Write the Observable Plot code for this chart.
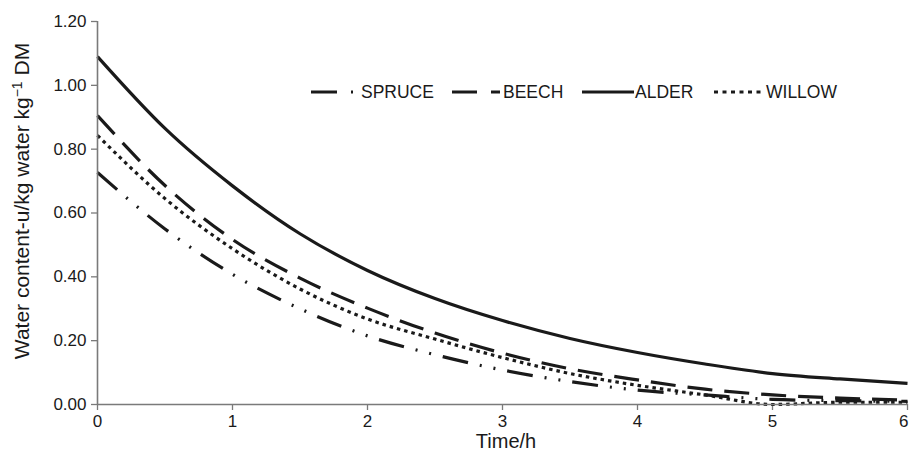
<!DOCTYPE html>
<html>
<head>
<meta charset="utf-8">
<script src="https://cdn.jsdelivr.net/npm/d3@7"></script>
<script src="https://cdn.jsdelivr.net/npm/@observablehq/plot@0.6"></script>
<style>
  html, body { margin: 0; padding: 0; background: #fff; overflow: hidden; }
  #chart { width: 909px; height: 465px; }
</style>
</head>
<body>
<div id="chart"></div>
<script>
// ---- data ----
const time   = [0, 0.5, 1, 1.5, 2, 2.5, 3, 3.5, 4, 4.5, 5, 5.5, 6];
const spruce = [0.727, 0.55, 0.408, 0.30, 0.215, 0.156, 0.108, 0.072, 0.045, 0.03, 0.016, 0.012, 0.01];
const beech  = [0.905, 0.686, 0.517, 0.396, 0.302, 0.224, 0.161, 0.112, 0.077, 0.048, 0.03, 0.02, 0.014];
const alder  = [1.09, 0.865, 0.685, 0.535, 0.42, 0.332, 0.263, 0.207, 0.163, 0.127, 0.097, 0.08, 0.066];
const willow = [0.843, 0.645, 0.488, 0.362, 0.268, 0.205, 0.147, 0.097, 0.06, 0.03, 0.0, 0.007, 0.007];
const seriesNames = ["SPRUCE", "BEECH", "ALDER", "WILLOW"];
const xTicks = [0, 1, 2, 3, 4, 5, 6];
const yTicks = [0, 0.2, 0.4, 0.6, 0.8, 1.0, 1.2];
const xTitle = "Time/h";

const seriesValues = {SPRUCE: spruce, BEECH: beech, ALDER: alder, WILLOW: willow};
const dashes = {SPRUCE: "26,12,2,12,2,12", BEECH: "25,12", ALDER: null, WILLOW: "3.5,4"};
const rows = s => time.map((t, i) => ({t, v: seriesValues[s][i]}));

const font = "'Liberation Sans', Arial, Helvetica, sans-serif";
const ink = "#1a1a1a";
const axisGray = "#7a7a7a";

const plot = Plot.plot({
  width: 909,
  height: 465,
  marginLeft: 97,
  marginRight: 2,
  marginTop: 21,
  marginBottom: 61,
  style: {fontFamily: font, fontSize: "17px", color: ink, background: "#fff", overflow: "visible"},
  x: {domain: [0, 6]},
  y: {domain: [0, 1.2]},
  marks: [
    Plot.axisX({ticks: xTicks, tickFormat: d3.format("d"), tickSize: 6, tickPadding: 4, stroke: axisGray, strokeWidth: 1.3, fill: ink, fontSize: 17, label: null}),
    Plot.axisY({ticks: yTicks, tickFormat: d3.format(".2f"), tickSize: 6, tickPadding: 5, stroke: axisGray, strokeWidth: 1.3, fill: ink, fontSize: 17, label: null}),
    ...seriesNames.map(s => Plot.line(rows(s), {
      x: "t", y: "v", curve: "monotone-x",
      stroke: ink, strokeWidth: 3.2,
      strokeDasharray: dashes[s] || undefined,
      strokeLinecap: "butt"
    })),
    Plot.ruleY([0], {stroke: axisGray, strokeWidth: 1.6}),
    Plot.ruleX([0], {stroke: axisGray, strokeWidth: 1.6})
  ]
});
document.getElementById("chart").appendChild(plot);

// keep the last x tick label inside the picture
d3.select(plot).selectAll("text")
  .filter(function () { return this.textContent === "6"; })
  .attr("text-anchor", "end")
  .attr("dx", 1);

// ---- titles and legend ----
const svg = d3.select(plot);
svg.append("text")
  .attr("x", 506).attr("y", 448)
  .attr("text-anchor", "middle")
  .attr("font-family", font).attr("font-size", 20).attr("fill", ink)
  .text(xTitle);

const yl = svg.append("text")
  .attr("transform", "translate(29,201) rotate(-90)")
  .attr("text-anchor", "middle")
  .attr("font-family", font).attr("font-size", 21).attr("fill", ink);
yl.append("tspan").text("Water content-u/kg water kg");
yl.append("tspan").attr("font-size", 14).attr("dy", -7).text("\u22121");
yl.append("tspan").attr("dy", 7).text(" DM");

const legendItems = [
  {name: "SPRUCE", x0: 311, x1: 355, tx: 361},
  {name: "BEECH",  x0: 452, x1: 500, tx: 503},
  {name: "ALDER",  x0: 582, x1: 634, tx: 635},
  {name: "WILLOW", x0: 714, x1: 765, tx: 766}
];
const legendDash = {SPRUCE: "26,14,2,14", BEECH: "25,14,9", ALDER: null, WILLOW: "4,4.5"};
const lg = svg.append("g").attr("text-anchor", "start");
const ly = 92;
legendItems.forEach(it => {
  const ln = lg.append("line")
    .attr("x1", it.x0).attr("x2", it.x1).attr("y1", ly).attr("y2", ly)
    .attr("stroke", ink).attr("stroke-width", 3.2);
  if (legendDash[it.name]) ln.attr("stroke-dasharray", legendDash[it.name]);
  lg.append("text")
    .attr("x", it.tx).attr("y", ly + 6)
    .attr("text-anchor", "start")
    .attr("font-family", font).attr("font-size", 17.5).attr("fill", ink)
    .text(it.name);
});
</script>
</body>
</html>
